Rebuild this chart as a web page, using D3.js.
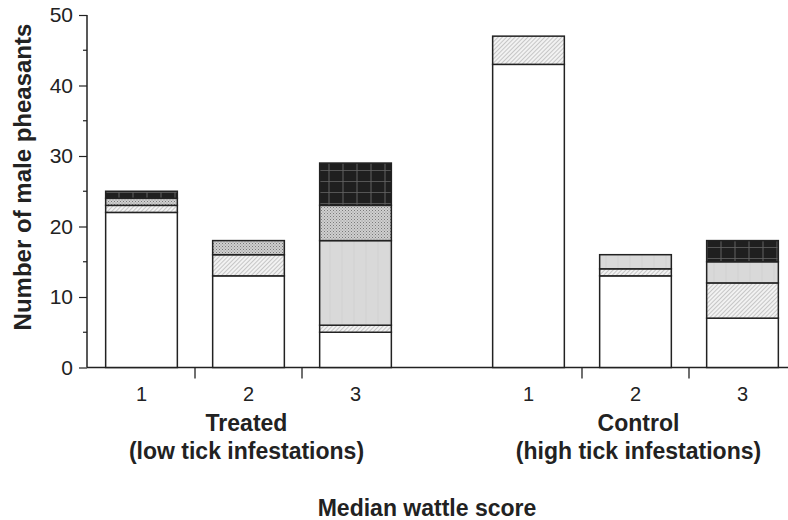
<!DOCTYPE html>
<html>
<head>
<meta charset="utf-8">
<script src="https://cdn.jsdelivr.net/npm/d3@7"></script>
<style>
  html, body { margin: 0; padding: 0; background: #fff; }
  svg { display: block; font-family: "Liberation Sans", Arial, sans-serif; }
</style>
</head>
<body>
<svg id="chart" width="788" height="520"></svg>
<script>
// Birds per median wattle score, split into stacked classes
const groups = ["Treated", "Control"];
const groupNotes = ["(low tick infestations)", "(high tick infestations)"];
const scores = ["1", "2", "3"];
const classKeys = ["c1", "c2", "c3", "c4", "c5"];

// one value per bar: Treated 1,2,3 then Control 1,2,3
const c1 = [22, 13, 5, 43, 13, 7];
const c2 = [1, 3, 1, 4, 1, 5];
const c3 = [0, 0, 12, 0, 2, 3];
const c4 = [1, 2, 5, 0, 0, 0];
const c5 = [1, 0, 6, 0, 0, 3];

const yTicks = [0, 10, 20, 30, 40, 50];
const yMinor = [5, 15, 25, 35, 45];

const rows = [];
groups.forEach((g, gi) => scores.forEach((s, si) => {
  const i = gi * scores.length + si;
  rows.push({ group: g, score: s, c1: c1[i], c2: c2[i], c3: c3[i], c4: c4[i], c5: c5[i] });
}));

const svg = d3.select("#chart");
const defs = svg.append("defs");

// fill textures
const hatch = defs.append("pattern").attr("id", "hatch")
  .attr("patternUnits", "userSpaceOnUse").attr("width", 3).attr("height", 3)
  .attr("patternTransform", "rotate(45)");
hatch.append("rect").attr("width", 3).attr("height", 3).attr("fill", "#f2f2f2");
hatch.append("line").attr("x1", 0).attr("y1", 0).attr("x2", 0).attr("y2", 3)
  .attr("stroke", "#9a9a9a").attr("stroke-width", 1);

const grey = defs.append("pattern").attr("id", "grey")
  .attr("patternUnits", "userSpaceOnUse").attr("width", 12).attr("height", 12);
grey.append("rect").attr("width", 12).attr("height", 12).attr("fill", "#d9d9d9");
grey.append("line").attr("x1", 6).attr("y1", 0).attr("x2", 6).attr("y2", 12)
  .attr("stroke", "#d2d2d2").attr("stroke-width", 1);

const stip = defs.append("pattern").attr("id", "stip")
  .attr("patternUnits", "userSpaceOnUse").attr("width", 3).attr("height", 3);
stip.append("rect").attr("width", 3).attr("height", 3).attr("fill", "#cfcfcf");
stip.append("rect").attr("width", 1).attr("height", 1).attr("fill", "#7a7a7a");
stip.append("rect").attr("x", 1.5).attr("y", 1.5).attr("width", 1).attr("height", 1).attr("fill", "#8f8f8f");

const dark = defs.append("pattern").attr("id", "dark")
  .attr("patternUnits", "userSpaceOnUse").attr("width", 14).attr("height", 11);
dark.append("rect").attr("width", 14).attr("height", 11).attr("fill", "#1f1f1f");
dark.append("line").attr("x1", 0).attr("y1", 5.5).attr("x2", 14).attr("y2", 5.5)
  .attr("stroke", "#555").attr("stroke-width", 1);
dark.append("line").attr("x1", 7).attr("y1", 0).attr("x2", 7).attr("y2", 11)
  .attr("stroke", "#606060").attr("stroke-width", 1);

const fills = { c1: "#ffffff", c2: "url(#hatch)", c3: "url(#grey)", c4: "url(#stip)", c5: "url(#dark)" };

// scales
const y = d3.scaleLinear().domain([0, 50]).range([367.5, 15]);
const xGroup = d3.scaleBand().domain(groups).range([88, 796]).paddingInner(0.1705).paddingOuter(0);
const xScore = d3.scaleBand().domain(scores).range([0, xGroup.bandwidth()])
  .paddingInner(0.33).paddingOuter(0.165);

const stacked = d3.stack().keys(classKeys)(rows);

// baseline
svg.append("line")
  .attr("x1", 87).attr("x2", 788)
  .attr("y1", y(0)).attr("y2", y(0))
  .attr("stroke", "#222").attr("stroke-width", 1.5);

// stacked segments
const barG = svg.append("g");
stacked.forEach(layer => {
  barG.selectAll(null)
    .data(layer.filter(d => d[1] - d[0] > 0))
    .join("rect")
    .attr("x", d => xGroup(d.data.group) + xScore(d.data.score))
    .attr("width", xScore.bandwidth())
    .attr("y", d => y(d[1]))
    .attr("height", d => y(d[0]) - y(d[1]))
    .attr("fill", fills[layer.key])
    .attr("stroke", "#222")
    .attr("stroke-width", 1.5);
});

// y axis
const yAxis = d3.axisLeft(y).tickValues(yTicks).tickSize(8).tickPadding(6).tickFormat(d3.format("d"));
const ya = svg.append("g").attr("transform", "translate(87,0)").call(yAxis);
ya.select(".domain").attr("stroke", "#222").attr("stroke-width", 1.5).attr("d", `M0,${y(50)}V${y(0)}`);
ya.selectAll(".tick line").attr("stroke", "#222").attr("stroke-width", 1.2);
ya.selectAll(".tick text").attr("font-size", 21).attr("fill", "#222")
  .attr("font-family", "Liberation Sans, Arial, sans-serif");
ya.selectAll(".minor").data(yMinor).join("line").attr("class", "minor")
  .attr("x1", -4).attr("x2", 0).attr("y1", d => y(d)).attr("y2", d => y(d))
  .attr("stroke", "#222").attr("stroke-width", 1.2);

// x ticks between score slots within each group
groups.forEach(g => {
  scores.slice(1).forEach(s => {
    const xb = xGroup(g) + xScore(s) - xScore.step() * xScore.paddingInner() / 2;
    svg.append("line").attr("x1", xb).attr("x2", xb)
      .attr("y1", y(0)).attr("y2", y(0) + 11)
      .attr("stroke", "#222").attr("stroke-width", 1.3);
  });
  scores.forEach(s => {
    svg.append("text")
      .attr("x", xGroup(g) + xScore(s) + xScore.bandwidth() / 2)
      .attr("y", 401)
      .attr("text-anchor", "middle")
      .attr("font-size", 20).attr("fill", "#222")
      .text(s);
  });
});

// group labels
const groupShift = [-2, 3];
groups.forEach((g, gi) => {
  const cx = xGroup(g) + xGroup.bandwidth() / 2 + groupShift[gi];
  svg.append("text").attr("x", cx).attr("y", 431).attr("text-anchor", "middle")
    .attr("font-size", 23).attr("font-weight", "bold").attr("fill", "#222").text(g);
  svg.append("text").attr("x", cx).attr("y", 459).attr("text-anchor", "middle")
    .attr("font-size", 23).attr("font-weight", "bold").attr("fill", "#222").text(groupNotes[gi]);
});

// axis titles
svg.append("text").attr("x", 427).attr("y", 516).attr("text-anchor", "middle")
  .attr("font-size", 23).attr("font-weight", "bold").attr("fill", "#222").text("Median wattle score");
svg.append("text").attr("transform", "translate(31,177) rotate(-90)").attr("text-anchor", "middle")
  .attr("font-size", 24).attr("font-weight", "bold").attr("fill", "#222").text("Number of male pheasants");
</script>
</body>
</html>
